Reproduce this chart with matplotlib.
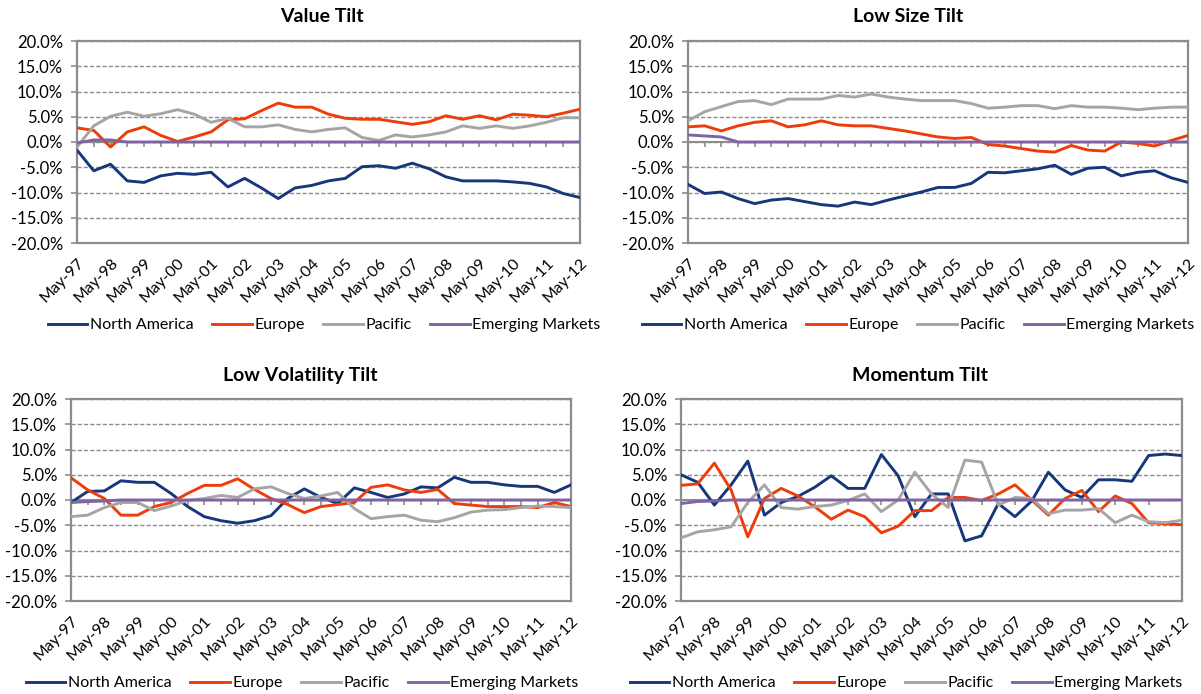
import matplotlib
matplotlib.use("Agg")
import matplotlib.pyplot as plt
from matplotlib.lines import Line2D

plt.rcParams['font.family'] = ['Lato', 'DejaVu Sans']

# semi-annual observations May-97 .. May-12 (31 points), labels every year
x_labels = ["May-97", "May-98", "May-99", "May-00", "May-01", "May-02", "May-03", "May-04",
            "May-05", "May-06", "May-07", "May-08", "May-09", "May-10", "May-11", "May-12"]
regions = ["North America", "Europe", "Pacific", "Emerging Markets"]
colors = ["#17377A", "#EE3D0A", "#A5A5A5", "#8064A2"]

value_na = [-1.6, -5.7, -4.4, -7.7, -8.0, -6.7, -6.2, -6.4, -6.0, -8.9, -7.2, -9.1, -11.2, -9.1, -8.6, -7.7,
            -7.2, -4.9, -4.7, -5.2, -4.2, -5.3, -6.9, -7.7, -7.7, -7.7, -7.9, -8.2, -8.9, -10.2, -11.0]
value_eu = [2.8, 2.3, -1.0, 2.0, 3.0, 1.3, 0.1, 1.0, 2.0, 4.4, 4.6, 6.2, 7.7, 6.9, 6.9, 5.5,
            4.7, 4.5, 4.5, 4.0, 3.5, 4.0, 5.2, 4.5, 5.2, 4.4, 5.5, 5.3, 5.0, 5.7, 6.5]
value_pa = [-1.0, 3.2, 5.1, 5.9, 5.1, 5.6, 6.4, 5.5, 3.9, 4.7, 3.0, 3.0, 3.4, 2.5, 2.0, 2.5,
            2.8, 0.9, 0.3, 1.4, 1.0, 1.4, 2.0, 3.2, 2.7, 3.2, 2.7, 3.2, 3.9, 4.8, 4.8]
value_em = [-0.2, 0.4, 0.4, 0.0, 0.0, 0.0, 0.0, 0.0, 0.0, 0.0, 0.0, 0.0, 0.0, 0.0, 0.0, 0.0,
            0.0, 0.0, 0.0, 0.0, 0.0, 0.0, 0.0, 0.0, 0.0, 0.0, 0.0, 0.0, 0.0, 0.0, 0.0]

size_na = [-8.4, -10.2, -9.9, -11.2, -12.2, -11.5, -11.2, -11.8, -12.4, -12.7, -11.9, -12.4, -11.5, -10.7, -9.9, -9.0,
           -9.0, -8.2, -6.0, -6.1, -5.7, -5.3, -4.6, -6.4, -5.2, -5.0, -6.7, -6.0, -5.7, -7.1, -8.0]
size_eu = [3.0, 3.2, 2.2, 3.2, 3.9, 4.2, 3.0, 3.4, 4.2, 3.4, 3.2, 3.2, 2.7, 2.2, 1.6, 1.0,
           0.7, 0.9, -0.5, -0.8, -1.3, -1.8, -2.0, -0.7, -1.6, -1.8, 0.0, -0.3, -0.8, 0.3, 1.3]
size_pa = [4.2, 6.0, 7.0, 8.0, 8.2, 7.4, 8.5, 8.5, 8.5, 9.2, 8.9, 9.5, 8.9, 8.5, 8.2, 8.2,
           8.2, 7.6, 6.7, 6.9, 7.2, 7.2, 6.6, 7.2, 6.9, 6.9, 6.7, 6.4, 6.7, 6.9, 6.9]
size_em = [1.4, 1.2, 1.0, 0.0, 0.0, 0.0, 0.0, 0.0, 0.0, 0.0, 0.0, 0.0, 0.0, 0.0, 0.0, 0.0,
           0.0, 0.0, 0.0, 0.0, 0.0, 0.0, 0.0, 0.0, 0.0, 0.0, 0.0, 0.0, 0.0, 0.0, 0.0]

vol_na = [-0.5, 1.7, 1.8, 3.8, 3.5, 3.5, 1.3, -1.3, -3.3, -4.1, -4.6, -4.1, -3.1, 0.3, 2.2, 0.5,
          -0.7, 2.4, 1.5, 0.5, 1.2, 2.6, 2.4, 4.5, 3.5, 3.5, 3.0, 2.7, 2.7, 1.5, 3.0]
vol_eu = [4.4, 2.0, 0.3, -3.0, -3.0, -1.3, -0.5, 1.3, 2.9, 2.9, 4.2, 2.1, 0.3, -0.9, -2.5, -1.3,
          -0.9, -0.5, 2.5, 3.0, 2.0, 1.5, 2.1, -0.7, -1.0, -1.3, -1.3, -1.3, -1.5, -0.5, -1.3]
vol_pa = [-3.3, -3.0, -1.5, -0.5, -0.5, -2.1, -1.2, -0.1, 0.3, 0.9, 0.5, 2.2, 2.6, 1.3, 0.3, 0.8,
          1.5, -1.7, -3.7, -3.3, -3.0, -4.0, -4.3, -3.5, -2.4, -2.0, -1.9, -1.5, -1.2, -1.3, -1.5]
vol_em = [-0.5, -0.3, -0.2, 0.0, 0.0, 0.0, 0.0, 0.0, 0.0, 0.0, 0.0, 0.0, 0.0, 0.0, 0.0, 0.0,
          0.0, 0.0, 0.0, 0.0, 0.0, 0.0, 0.0, 0.0, 0.0, 0.0, 0.0, 0.0, 0.0, 0.0, 0.0]

mom_na = [5.0, 3.5, -1.0, 3.0, 7.7, -3.0, -0.5, 0.7, 2.5, 4.8, 2.3, 2.3, 9.0, 4.8, -3.3, 1.2,
          1.2, -8.1, -7.1, -0.7, -3.3, -0.2, 5.5, 2.0, 0.5, 4.0, 4.0, 3.7, 8.8, 9.1, 8.8]
mom_eu = [2.9, 3.2, 7.3, 2.0, -7.3, 0.3, 2.3, 0.8, -1.3, -3.8, -2.0, -3.3, -6.5, -5.2, -2.1, -2.1,
          0.5, 0.5, -0.1, 1.2, 3.0, 0.0, -3.0, 0.3, 1.9, -2.3, 0.8, -0.7, -4.5, -4.7, -4.9]
mom_pa = [-7.5, -6.3, -5.9, -5.3, -0.5, 3.0, -1.5, -1.8, -1.3, -1.0, -0.1, 1.2, -2.3, 0.0, 5.5, 1.2,
          -1.5, 7.9, 7.5, -1.0, 0.5, 0.3, -2.7, -2.0, -2.0, -1.7, -4.5, -3.0, -4.3, -4.5, -4.0]
mom_em = [-0.7, -0.3, -0.2, 0.0, 0.0, 0.0, 0.0, 0.0, 0.0, 0.0, 0.0, 0.0, 0.0, 0.0, 0.0, 0.0,
          0.0, 0.0, 0.0, 0.0, 0.0, 0.0, 0.0, 0.0, 0.0, 0.0, 0.0, 0.0, 0.0, 0.0, 0.0]

# title, series, plot box (left, top, width in px), title x, legend x, zero-axis tick step
panels = [
    ("Value Tilt", [value_na, value_eu, value_pa, value_em], [77, 41, 503], 322, 324, 1),
    ("Low Size Tilt", [size_na, size_eu, size_pa, size_em], [688, 41, 500], 908, 918, 1),
    ("Low Volatility Tilt", [vol_na, vol_eu, vol_pa, vol_em], [71, 399, 500], 300, 302, 1),
    ("Momentum Tilt", [mom_na, mom_eu, mom_pa, mom_em], [681, 399, 501], 920, 906, 2),
]

W, H = 1201, 694
fig = plt.figure(figsize=(W / 100, H / 100), dpi=100)
grey = "#8C8C8C"

for title, series, (px, py, pw), tx, lx, tick_step in panels:
    ph = 202
    ax = fig.add_axes([px / W, 1 - (py + ph) / H, pw / W, ph / H])
    n = len(series[0])
    xs = list(range(n))
    ax.set_xlim(0, n - 1)
    ax.set_ylim(-20, 20)
    ax.set_yticks(range(-20, 21, 5))
    ax.set_yticklabels(["%.1f%%" % v for v in range(-20, 21, 5)], fontsize=12)
    ax.yaxis.grid(True, color=grey, linestyle=(0, (3, 1.5)), linewidth=1)
    ax.set_axisbelow(True)
    ax.tick_params(axis='y', length=4, color=grey, width=1.2, pad=6)
    ax.set_xticks(xs[::2])
    ax.set_xticklabels(x_labels, rotation=45, ha='right', va='top',
                       rotation_mode='anchor', fontsize=11.5)
    ax.tick_params(axis='x', length=0, pad=9)
    for s in ax.spines.values():
        s.set_color(grey)
        s.set_linewidth(1.6)
    # category axis at zero with small tick marks
    ax.axhline(0, color=grey, lw=1.5, zorder=2)
    ax.vlines(xs[tick_step::tick_step], -1.0, 0, color=grey, lw=1.2, zorder=2)
    for vals, c, lab in zip(series, colors, regions):
        ax.plot(xs, vals, color=c, lw=2.1, label=lab, zorder=3,
                solid_joinstyle='round')
    fig.text(tx / W, 1 - (py - 24) / H, title, ha='center', va='center',
             fontsize=14, fontweight='bold')
    handles = [Line2D([], [], color=c, lw=2.1) for c in colors]
    fig.legend(handles, regions, loc='center', ncol=4, frameon=False,
               bbox_to_anchor=(lx / W, 1 - (py + 284) / H), fontsize=11.5,
               handlelength=2.5, handletextpad=0.15, columnspacing=1.15)

fig.savefig("out.png", dpi=100)
